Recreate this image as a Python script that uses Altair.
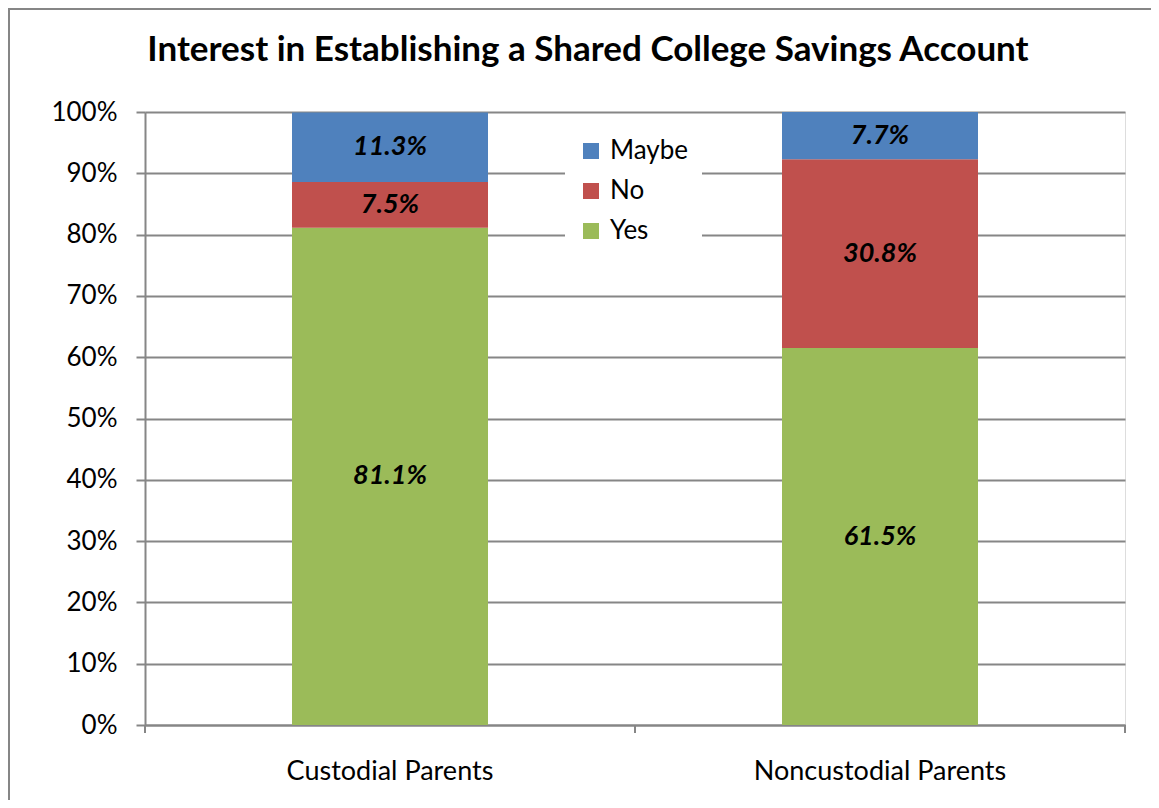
import altair as alt
import pandas as pd

categories = ["Custodial Parents", "Noncustodial Parents"]
responses = ["Yes", "No", "Maybe"]
yes_values = [81.1, 61.5]
no_values = [7.5, 30.8]
maybe_values = [11.3, 7.7]
y_tick_values = [0, 0.1, 0.2, 0.3, 0.4, 0.5, 0.6, 0.7, 0.8, 0.9, 1.0]
legend_order = ["Maybe", "No", "Yes"]
colors = ["#4F81BD", "#C0504D", "#9BBB59"]
title_text = "Interest in Establishing a Shared College Savings Account"

rows = []
for i, c in enumerate(categories):
    for order, (r, vals) in enumerate(zip(responses, [yes_values, no_values, maybe_values])):
        rows.append({"category": c, "response": r, "order": order, "value": vals[i] / 100})
df = pd.DataFrame(rows)

FONT = "Lato"
GRAY = "#868686"
W, H = 980, 613
PAD_L, PAD_T, PAD_R, PAD_B = 137, 104, 26, 75

x_scale = alt.Scale(domain=categories, paddingInner=0.6, paddingOuter=0.3)
y_scale = alt.Scale(domain=[0, 1], nice=False)
color_scale = alt.Scale(domain=legend_order, range=colors)

base = alt.Chart(df).transform_stack(
    stack="value", groupby=["category"], as_=["y0", "y1"], sort=[alt.SortField("order")]
).transform_calculate(mid="(datum.y0 + datum.y1) / 2")

bars = base.mark_bar().encode(
    x=alt.X("category:N", scale=x_scale, sort=categories,
            axis=alt.Axis(title=None, ticks=False, labelAngle=0, labelFont=FONT,
                          labelFontSize=27, labelPadding=33, labelColor="black",
                          labelLimit=0, domainColor=GRAY, domainWidth=2, grid=False)),
    y=alt.Y("y0:Q", scale=y_scale,
            axis=alt.Axis(values=y_tick_values, format=".0%", title=None, labelFont=FONT,
                          labelFontSize=26, labelColor="black", labelPadding=19,
                          tickSize=9, tickColor=GRAY, tickWidth=2,
                          gridColor=GRAY, gridWidth=2, domainColor=GRAY, domainWidth=2)),
    y2="y1:Q",
    color=alt.Color("response:N", scale=color_scale, sort=legend_order,
                    legend=alt.Legend(title=None, orient="none", legendX=420, legendY=13,
                                      fillColor="white", padding=13, symbolType="square",
                                      symbolSize=256, symbolStrokeWidth=0, labelFont=FONT,
                                      labelFontSize=26, labelColor="black", rowPadding=14,
                                      labelOffset=6, labelLimit=0)),
)

labels = base.mark_text(font=FONT, fontSize=27, fontWeight="bold", fontStyle="italic",
                        color="black").encode(
    x=alt.X("category:N", scale=x_scale, sort=categories),
    y=alt.Y("mid:Q", scale=y_scale),
    text=alt.Text("value:Q", format=".1%"),
)

# category boundary tick marks on the x axis (decoration)
tick_layers = [
    alt.Chart(df).mark_rule(color=GRAY, strokeWidth=2).encode(
        x=alt.value(px), y=alt.value(H), y2=alt.value(H + 8))
    for px in (0, W / 2, W)
]

border_top = alt.Chart(df).mark_rule(color=GRAY, strokeWidth=2).encode(
    x=alt.value(-PAD_L), x2=alt.value(W + PAD_R), y=alt.value(-PAD_T + 1))
border_left = alt.Chart(df).mark_rule(color=GRAY, strokeWidth=2).encode(
    x=alt.value(-PAD_L + 1), y=alt.value(-PAD_T + 1), y2=alt.value(H + PAD_B))

chart = alt.layer(bars, labels, *tick_layers, border_top, border_left).properties(
    width=W, height=H,
    autosize=alt.AutoSizeParams(type="none"),
    padding={"left": PAD_L, "top": PAD_T, "right": PAD_R, "bottom": PAD_B},
    title=alt.TitleParams(title_text, font=FONT, fontSize=35, fontWeight="bold",
                          color="black", anchor="middle", frame="group", dx=-47,
                          baseline="alphabetic", offset=-88),
).configure_view(stroke=None).configure(background="white")

chart.save("out.html", embed_options={"renderer": "svg", "actions": False})
